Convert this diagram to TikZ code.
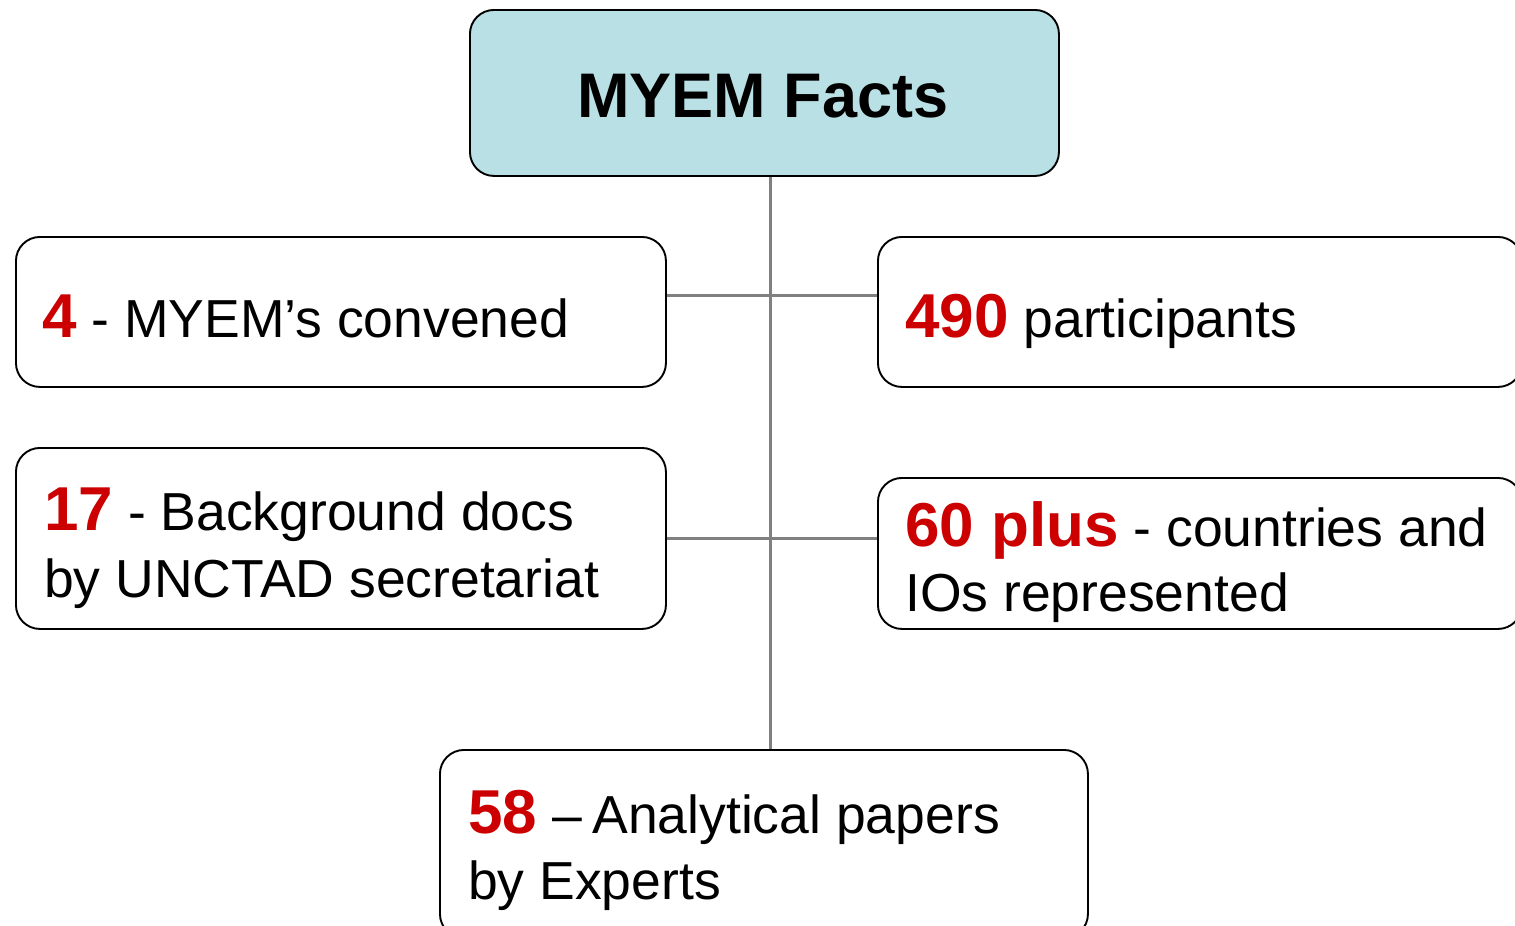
\documentclass[tikz,border=0pt]{standalone}
\usepackage{fontspec}
\setmainfont{Liberation Sans}
\definecolor{boxfill}{HTML}{B9E0E4}
\definecolor{numred}{HTML}{CC0000}
\definecolor{conngray}{HTML}{808080}
\newcommand{\bignum}[1]{{\fontsize{62}{64}\selectfont\bfseries\color{numred}#1}}
\begin{document}
\begin{tikzpicture}[x=1pt,y=-1pt,
  box/.style={draw=black, line width=1.9pt, rounded corners=24pt, fill=white, anchor=north west, inner sep=0pt},
  conn/.style={draw=conngray, line width=3pt},
  txt/.style={anchor=base west, inner sep=0pt, font=\fontsize{53.5}{64}\selectfont}]
\clip (0,0) rectangle (1515,926);
\fill[white] (0,0) rectangle (1515,926);
% boxes
\node[box, fill=boxfill, minimum width=589pt, minimum height=166pt] (top) at (469,9) {};
\node[box, minimum width=650pt, minimum height=150pt] (b1) at (15,236) {};
\node[box, minimum width=644pt, minimum height=150pt] (b2) at (877,236) {};
\node[box, minimum width=650pt, minimum height=181pt] (b3) at (15,447) {};
\node[box, minimum width=644pt, minimum height=151pt] (b4) at (877,477) {};
\node[box, minimum width=648pt, minimum height=188pt] (bot) at (439,749) {};
% connectors
\draw[conn] ([xshift=6.5pt]top.south) -- ([xshift=7pt]bot.north);
\draw[conn] ([yshift=16pt]b1.east) -- ([yshift=16pt]b2.west);
\draw[conn] (b3.east) -- (b3.east -| b4.west);
% texts
\node[anchor=base, inner sep=0pt, font=\fontsize{63}{70}\selectfont\bfseries] (ttl) at (763,117) {MYEM Facts};
\node[txt] (t1) at (42,337) {\bignum{4} - MYEM’s convened};
\node[txt] (t2) at (905,337) {\bignum{490} participants};
\node[txt] (t3a) at (44,530) {\bignum{17} - Background docs};
\node[txt] (t3b) at (44,597) {by UNCTAD secretariat};
\node[txt] (t4a) at (905,546) {\bignum{60 plus} - countries and};
\node[txt] (t4b) at (905,611) {IOs represented};
\node[txt] (t5a) at (468,833) {\bignum{58} –\kern0.2em Analytical papers};
\node[txt] (t5b) at (468,899) {by Experts};
\end{tikzpicture}
\end{document}
